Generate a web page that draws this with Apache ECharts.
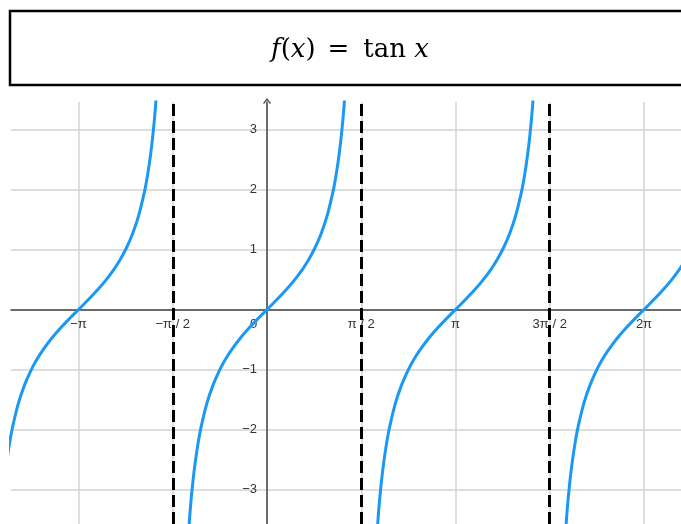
<!DOCTYPE html>
<html>
<head>
<meta charset="utf-8">
<script src="https://cdn.jsdelivr.net/npm/echarts@6/dist/echarts.min.js"></script>
<style>
  html, body { margin: 0; padding: 0; background: #fff; }
  #chart { width: 681px; height: 524px; }
</style>
</head>
<body>
<div id="chart"></div>
<script>
// ---- data ----
const titleParts = ['f', '(', 'x', ')', '=', 'tan', 'x'];
const xTickValues = [-3.14159, -1.5708, 0, 1.5708, 3.14159, 4.71239, 6.28319];
const xTickLabels = ['−π', '−π / 2', '0', 'π / 2', 'π', '3π / 2', '2π'];
const yTickValues = [-3, -2, -1, 1, 2, 3];
const yTickLabels = ['−3', '−2', '−1', '1', '2', '3'];
const asymptotes = [-1.5708, 1.5708, 4.71239];

// branch around x = -π
const branch1X = [-4.462, -4.422, -4.382, -4.342, -4.292, -4.242, -4.142, -4.042, -3.942, -3.842, -3.742, -3.592, -3.442, -3.292, -3.142, -2.992, -2.842, -2.692, -2.542, -2.442, -2.342, -2.242, -2.142, -2.042, -1.992, -1.942, -1.902, -1.862, -1.822];
const branch1Y = [-3.903, -3.341, -2.912, -2.572, -2.235, -1.965, -1.557, -1.260, -1.030, -0.842, -0.684, -0.483, -0.309, -0.151, 0, 0.151, 0.309, 0.483, 0.684, 0.842, 1.030, 1.260, 1.557, 1.965, 2.235, 2.572, 2.912, 3.341, 3.903];
// branch around x = 0
const branch2X = [-1.32, -1.28, -1.24, -1.20, -1.15, -1.10, -1.00, -0.90, -0.80, -0.70, -0.60, -0.45, -0.30, -0.15, 0, 0.15, 0.30, 0.45, 0.60, 0.70, 0.80, 0.90, 1.00, 1.10, 1.15, 1.20, 1.24, 1.28, 1.32];
const branch2Y = [-3.903, -3.341, -2.912, -2.572, -2.235, -1.965, -1.557, -1.260, -1.030, -0.842, -0.684, -0.483, -0.309, -0.151, 0, 0.151, 0.309, 0.483, 0.684, 0.842, 1.030, 1.260, 1.557, 1.965, 2.235, 2.572, 2.912, 3.341, 3.903];
// branch around x = π
const branch3X = [1.822, 1.862, 1.902, 1.942, 1.992, 2.042, 2.142, 2.242, 2.342, 2.442, 2.542, 2.692, 2.842, 2.992, 3.142, 3.292, 3.442, 3.592, 3.742, 3.842, 3.942, 4.042, 4.142, 4.242, 4.292, 4.342, 4.382, 4.422, 4.462];
const branch3Y = [-3.903, -3.341, -2.912, -2.572, -2.235, -1.965, -1.557, -1.260, -1.030, -0.842, -0.684, -0.483, -0.309, -0.151, 0, 0.151, 0.309, 0.483, 0.684, 0.842, 1.030, 1.260, 1.557, 1.965, 2.235, 2.572, 2.912, 3.341, 3.903];
// branch around x = 2π
const branch4X = [4.963, 5.003, 5.043, 5.083, 5.133, 5.183, 5.283, 5.383, 5.483, 5.583, 5.683, 5.833, 5.983, 6.133, 6.283, 6.433, 6.583, 6.733, 6.883, 6.983, 7.083];
const branch4Y = [-3.903, -3.341, -2.912, -2.572, -2.235, -1.965, -1.557, -1.260, -1.030, -0.842, -0.684, -0.483, -0.309, -0.151, 0, 0.151, 0.309, 0.483, 0.684, 0.842, 1.030];

// ---- chart ----
const zip = (xs, ys) => xs.map((x, i) => [x, ys[i]]);
const curveColor = '#1a98f5';
const labelFont = { color: '#333', fontSize: 13, fontFamily: 'Liberation Sans' };

function xLabel(v) {
  let best = 0, bd = Infinity;
  xTickValues.forEach((t, i) => { const d = Math.abs(t - v); if (d < bd) { bd = d; best = i; } });
  const s = xTickLabels[best];
  return s === '0' ? '{z|0}' : s;
}
function yLabel(v) {
  const i = yTickValues.findIndex(t => Math.abs(t - v) < 1e-6);
  return i >= 0 ? yTickLabels[i] : '';
}

function curveSeries(data, extra) {
  return Object.assign({
    type: 'line',
    data: data,
    smooth: 0.3,
    showSymbol: false,
    symbol: 'none',
    clip: true,
    silent: true,
    lineStyle: { color: curveColor, width: 3 },
    z: 5
  }, extra || {});
}

const gridLeft = 11, gridTop = 102;
const chart = echarts.init(document.getElementById('chart'), null, { renderer: 'canvas' });
const option = {
  animation: false,
  backgroundColor: '#ffffff',
  graphic: [
    {
      type: 'rect',
      shape: { x: 10, y: 11, width: 700, height: 74 },
      style: { fill: 'none', stroke: '#000', lineWidth: 2.5 }
    },
    {
      type: 'text',
      x: 350,
      y: 50,
      style: {
        text: '{i|' + titleParts[0] + '}{r|' + titleParts[1] + '}{i|' + titleParts[2] + '}{r|' + titleParts[3] + '}{e|' + titleParts[4] + '}{r|' + titleParts[5] + ' }{i|' + titleParts[6] + '}',
        align: 'center',
        verticalAlign: 'middle',
        fill: '#000',
        rich: {
          i: { fontFamily: 'DejaVu Serif', fontStyle: 'italic', fontSize: 26, fill: '#000', color: '#000' },
          r: { fontFamily: 'DejaVu Serif', fontSize: 26, fill: '#000', color: '#000' },
          e: { fontFamily: 'DejaVu Serif', fontSize: 26, fill: '#000', color: '#000', padding: [0, 14, 0, 12] }
        }
      }
    }
  ],
  grid: { left: gridLeft, right: 0, top: gridTop, bottom: 0, containLabel: false, outerBoundsMode: 'none' },
  xAxis: {
    type: 'value',
    min: -4.267,
    max: 6.9,
    position: 'bottom',
    offset: 0,
    axisLine: { onZero: false, lineStyle: { color: '#444', width: 1.5 } },
    axisTick: { show: false, customValues: xTickValues },
    axisLabel: Object.assign({
      customValues: xTickValues,
      formatter: xLabel,
      margin: 8,
      rich: { z: Object.assign({ width: 34, align: 'left' }, labelFont) }
    }, labelFont),
    splitLine: { show: true, lineStyle: { color: '#d3d3d3', width: 1.5 } }
  },
  yAxis: {
    type: 'value',
    min: -3.575,
    max: 3.46,
    position: 'left',
    offset: 0,
    axisLine: {
      onZero: false,
      lineStyle: { color: '#444', width: 1.5 },
      symbol: ['none', 'path://M0,6 L4.5,0 L9,6 L7.8,6.8 L4.5,2.2 L1.2,6.8 Z'],
      symbolSize: [9, 6],
      symbolOffset: [0, 1]
    },
    axisTick: { show: false, customValues: [-3, -2, -1, 0, 1, 2, 3] },
    axisLabel: Object.assign({
      customValues: yTickValues,
      formatter: yLabel,
      margin: 10
    }, labelFont),
    splitLine: { show: true, lineStyle: { color: '#d3d3d3', width: 1.5 } }
  },
  series: [
    curveSeries(zip(branch1X, branch1Y), {
      markLine: {
        silent: true,
        symbol: ['none', 'none'],
        label: { show: false },
        lineStyle: { color: '#000', width: 3, type: [12, 5] },
        emphasis: { disabled: true },
        data: asymptotes.map(a => ({ xAxis: a }))
      }
    }),
    curveSeries(zip(branch2X, branch2Y)),
    curveSeries(zip(branch3X, branch3Y)),
    curveSeries(zip(branch4X, branch4Y))
  ]
};
chart.setOption(option);
// move each axis (line + labels) onto the other axis's zero, using the library's own scales
const origin = chart.convertToPixel({ gridIndex: 0 }, [0, 0]);
const gridBottomPx = 524;
chart.setOption({
  xAxis: { offset: -(gridBottomPx - origin[1]) },
  yAxis: { offset: -(origin[0] - gridLeft) }
});
</script>
</body>
</html>
